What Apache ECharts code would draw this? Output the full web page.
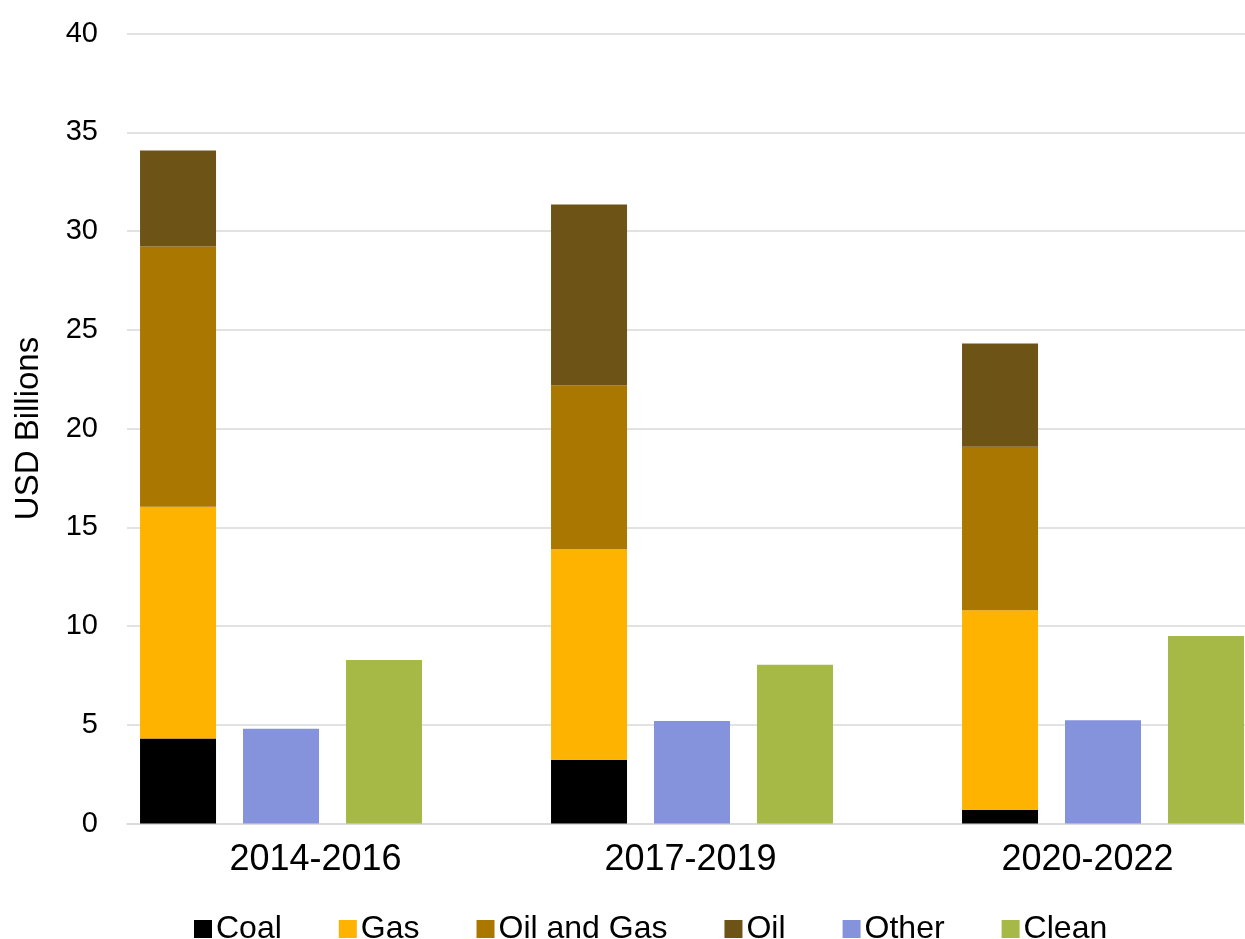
<!DOCTYPE html>
<html>
<head>
<meta charset="utf-8">
<script src="https://cdn.jsdelivr.net/npm/echarts@6/dist/echarts.min.js"></script>
<style>
  html, body { margin: 0; padding: 0; background: #ffffff; overflow: hidden; width: 1245px; height: 939px; }
  #chart { width: 1360px; height: 939px; }
</style>
</head>
<body>
<div id="chart"></div>
<script>
// ---- data ----
var categories = ['2014-2016', '2017-2019', '2020-2022'];
var coal      = [4.31, 3.23, 0.70];
var gas       = [11.73, 10.66, 10.10];
var oilAndGas = [13.18, 8.30, 8.28];
var oil       = [4.85, 9.15, 5.22];
var other     = [4.80, 5.19, 5.23];
var clean     = [8.28, 8.04, 9.49];
var yTicks    = { min: 0, max: 40, interval: 5 };

var font = '"Liberation Sans", Arial, Helvetica, sans-serif';
var colors = {
  coal: '#000000', gas: '#FDB300', oilAndGas: '#AA7700',
  oil: '#6E5316', other: '#8592DC', clean: '#A6B946'
};
var barW = 76;

var chart = echarts.init(document.getElementById('chart'), null, { renderer: 'canvas' });

var labelShift = ['p0', 'p1', 'p2'];
var option = {
  backgroundColor: '#ffffff',
  animation: false,
  textStyle: { fontFamily: font, color: '#000' },
  // the plot area of the source runs past the right edge of the picture
  grid: { left: 127, top: 33.5, right: 0, bottom: 115.5, containLabel: false },
  legend: {
    data: ['Coal', 'Gas', 'Oil and Gas', 'Oil', 'Other', 'Clean'],
    left: 194,
    top: 913,
    padding: 0,
    icon: 'rect',
    itemWidth: 18,
    itemHeight: 18,
    itemGap: 57,
    textStyle: { fontFamily: font, fontSize: 32, color: '#000', padding: [0, 0, 0, -1] }
  },
  xAxis: {
    type: 'category',
    data: categories,
    boundaryGap: true,
    axisLine: { show: true, lineStyle: { color: '#d9d9d9', width: 1.5 } },
    axisTick: { show: false },
    axisLabel: {
      margin: 19,
      formatter: function (v, i) { return '{' + labelShift[i] + '|' + v + '}'; },
      rich: {
        p0: { fontFamily: font, fontSize: 36, color: '#000', padding: [0, 34, 0, 0] },
        p1: { fontFamily: font, fontSize: 36, color: '#000', padding: [0, 106, 0, 0] },
        p2: { fontFamily: font, fontSize: 36, color: '#000', padding: [0, 134, 0, 0] }
      }
    }
  },
  yAxis: {
    type: 'value',
    min: yTicks.min,
    max: yTicks.max,
    interval: yTicks.interval,
    name: 'USD Billions',
    nameLocation: 'middle',
    nameGap: 82,
    nameRotate: 90,
    nameTextStyle: { fontFamily: font, fontSize: 33, color: '#000' },
    axisLine: { show: false },
    axisTick: { show: false },
    axisLabel: { margin: 29, fontFamily: font, fontSize: 29, color: '#000' },
    splitLine: { show: true, lineStyle: { color: '#d9d9d9', width: 1.5 } }
  },
  series: [
    { name: 'Coal', type: 'bar', stack: 'fossil', barWidth: barW, barGap: '35.5%', data: coal, itemStyle: { color: colors.coal } },
    { name: 'Gas', type: 'bar', stack: 'fossil', barWidth: barW, barGap: '35.5%', data: gas, itemStyle: { color: colors.gas } },
    { name: 'Oil and Gas', type: 'bar', stack: 'fossil', barWidth: barW, barGap: '35.5%', data: oilAndGas, itemStyle: { color: colors.oilAndGas } },
    { name: 'Oil', type: 'bar', stack: 'fossil', barWidth: barW, barGap: '35.5%', data: oil, itemStyle: { color: colors.oil } },
    { name: 'Other', type: 'bar', barWidth: barW, barGap: '35.5%', data: other, itemStyle: { color: colors.other } },
    { name: 'Clean', type: 'bar', barWidth: barW, barGap: '35.5%', data: clean, itemStyle: { color: colors.clean } },
    // empty slot reserved in each category group (as in the source layout)
    { name: '_slot', type: 'bar', barWidth: barW, barGap: '35.5%', data: [null, null, null], silent: true }
  ]
};
chart.setOption(option);
</script>
</body>
</html>
